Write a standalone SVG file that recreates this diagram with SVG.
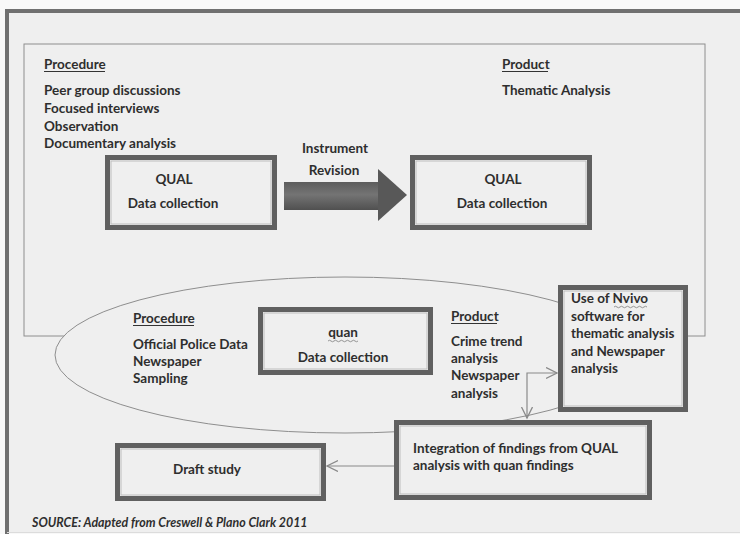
<svg xmlns="http://www.w3.org/2000/svg" width="740" height="534" viewBox="0 0 740 534">
  <defs>
    <style>
      text { font-family: Lato, "Liberation Sans", sans-serif; font-size: 13.5px; font-weight: 700; fill: #2e2e2e; }
      .mid { text-anchor: middle; }
      .src { font-style: italic; font-size: 12.4px; }
      .ul { stroke: #333; stroke-width: 1; fill: none; }
      .wavy { stroke: #8a8a8a; stroke-width: 0.9; fill: none; }
      .box-outer { fill: #efefef; stroke: #606060; stroke-width: 5; }
      .box-inner { fill: none; stroke: #bdbdbd; stroke-width: 1; }
      .thin { fill: none; stroke: #8e8e8e; stroke-width: 1; }
      .conn { fill: none; stroke: #8a8a8a; stroke-width: 1.2; }
    </style>
    <linearGradient id="shaft" x1="0" y1="0" x2="0" y2="1">
      <stop offset="0" stop-color="#5c5c5c"/>
      <stop offset="0.45" stop-color="#747474"/>
      <stop offset="1" stop-color="#505050"/>
    </linearGradient>
    <marker id="open" markerUnits="userSpaceOnUse" markerWidth="14" markerHeight="14" refX="11" refY="6" orient="auto-start-reverse">
      <path d="M0,0.5 L11,6 L0,11.5" fill="none" stroke="#8a8a8a" stroke-width="1.3"/>
    </marker>
  </defs>

  <!-- page and outer frame -->
  <rect x="0" y="0" width="740" height="534" fill="#f8f8f8"/>
  <rect x="7" y="11" width="733" height="521" fill="#efefef"/>
  <path d="M7,534 L7,11 L740,11" fill="none" stroke="#707070" stroke-width="4"/>
  <line x1="7" y1="532.5" x2="740" y2="532.5" stroke="#dcdcdc" stroke-width="1"/>

  <!-- QUAL phase enclosure -->
  <rect id="qual-phase" x="24" y="44" width="681" height="292" class="thin"/>

  <!-- quan phase ellipse -->
  <ellipse id="quan-phase" cx="345" cy="355" rx="290" ry="78" fill="#efefef" stroke="#8e8e8e" stroke-width="1"/>

  <!-- QUAL procedure list -->
  <g id="qual-procedure">
    <text x="44" y="69">Procedure</text>
    <line x1="44" y1="71.5" x2="105" y2="71.5" class="ul"/>
    <text x="44" y="95">Peer group discussions</text>
    <text x="44" y="113">Focused interviews</text>
    <text x="44" y="131">Observation</text>
    <text x="44" y="148">Documentary analysis</text>
  </g>

  <!-- QUAL product -->
  <g id="qual-product">
    <text x="502" y="69">Product</text>
    <line x1="502" y1="71.5" x2="548" y2="71.5" class="ul"/>
    <text x="502" y="95">Thematic Analysis</text>
  </g>

  <!-- first QUAL data collection -->
  <g id="qual-collection-1">
    <rect x="107.5" y="157.5" width="167" height="70" class="box-outer"/>
    <rect x="111" y="161" width="160" height="63" class="box-inner"/>
    <text x="174" y="184" class="mid">QUAL</text>
    <text x="173" y="208" class="mid">Data collection</text>
  </g>

  <!-- second QUAL data collection -->
  <g id="qual-collection-2">
    <rect x="412.5" y="157.5" width="177" height="70" class="box-outer"/>
    <rect x="416" y="161" width="170" height="63" class="box-inner"/>
    <text x="503" y="184" class="mid">QUAL</text>
    <text x="502" y="208" class="mid">Data collection</text>
  </g>

  <!-- quan procedure -->
  <g id="quan-procedure">
    <text x="133" y="323">Procedure</text>
    <line x1="133" y1="325.5" x2="194" y2="325.5" class="ul"/>
    <text x="133" y="349">Official Police Data</text>
    <text x="133" y="366">Newspaper</text>
    <text x="133" y="383">Sampling</text>
  </g>

  <!-- quan data collection -->
  <g id="quan-collection">
    <rect x="260.5" y="309.5" width="170" height="63" class="box-outer"/>
    <rect x="264" y="313" width="163" height="56" class="box-inner"/>
    <text x="343" y="337" class="mid">quan</text>
    <path d="M328,341 q1.5,-1.5 3,0 t3,0 t3,0 t3,0 t3,0 t3,0 t3,0 t3,0 t3,0 t3,0" class="wavy"/>
    <text x="343" y="362" class="mid">Data collection</text>
  </g>

  <!-- quan product -->
  <g id="quan-product">
    <text x="451" y="321">Product</text>
    <line x1="451" y1="323.5" x2="497" y2="323.5" class="ul"/>
    <text x="451" y="346">Crime trend</text>
    <text x="451" y="363">analysis</text>
    <text x="451" y="380">Newspaper</text>
    <text x="451" y="398">analysis</text>
  </g>

  <!-- Nvivo analysis -->
  <g id="nvivo">
    <rect x="560.5" y="287.5" width="125" height="122" class="box-outer"/>
    <rect x="564" y="291" width="118" height="115" class="box-inner"/>
    <text x="571" y="303">Use of Nvivo</text>
    <path d="M614,307 q1.5,-1.5 3,0 t3,0 t3,0 t3,0 t3,0 t3,0 t3,0 t3,0 t3,0 t3,0 t3,0" class="wavy"/>
    <text x="571" y="321">software for</text>
    <text x="571" y="338">thematic analysis</text>
    <text x="571" y="356">and Newspaper</text>
    <text x="571" y="373">analysis</text>
  </g>

  <!-- integration of findings -->
  <g id="integration">
    <rect x="396.5" y="422.5" width="253" height="75" class="box-outer"/>
    <rect x="400" y="426" width="246" height="68" class="box-inner"/>
    <text x="413" y="453">Integration of findings from QUAL</text>
    <text x="413" y="470">analysis with quan findings</text>
  </g>

  <!-- draft study -->
  <g id="draft-study">
    <rect x="117.5" y="445.5" width="206" height="53" class="box-outer"/>
    <rect x="121" y="449" width="199" height="46" class="box-inner"/>
    <text x="207" y="474" class="mid">Draft study</text>
  </g>

  <!-- connectors -->
  <g id="connectors">
    <!-- instrument revision block arrow -->
    <g id="instrument-revision">
      <rect x="284" y="182" width="95" height="28" fill="url(#shaft)"/>
      <polygon points="378,169 407,195 378,221" fill="#585858"/>
      <text x="335" y="153" class="mid">Instrument</text>
      <text x="334" y="175" class="mid">Revision</text>
    </g>
    <path d="M527,418 L527,373 L557,373" class="conn" marker-start="url(#open)" marker-end="url(#open)"/>
    <line x1="394" y1="466" x2="327" y2="466" class="conn" marker-end="url(#open)"/>
  </g>

  <!-- source note -->
  <text x="32" y="527" class="src">SOURCE: Adapted from Creswell &amp; Plano Clark 2011</text>
</svg>
